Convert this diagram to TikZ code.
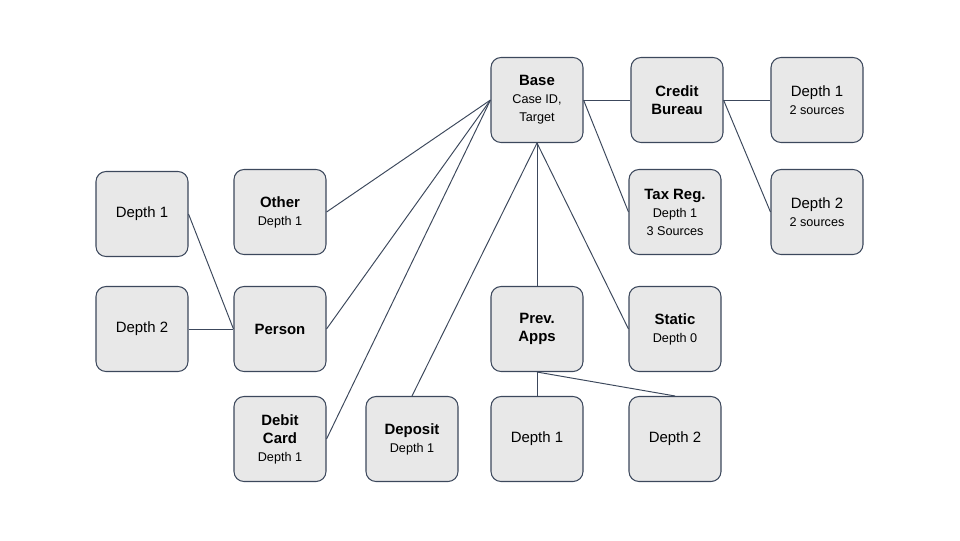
\documentclass[tikz,border=0pt]{standalone}
\usepackage{fontspec}
\setmainfont{Liberation Sans}
\usetikzlibrary{positioning}
\definecolor{boxfill}{RGB}{232,232,232}
\definecolor{boxedge}{RGB}{60,72,92}
\newcommand{\subtxt}[1]{{\fontsize{7.2}{8.8}\selectfont #1}}

\begin{document}
\begin{tikzpicture}[
    x=0.2mm, y=-0.2mm,
    font=\fontsize{8.5}{10.2}\selectfont,
    tbl/.style  ={rectangle, rounded corners=2mm, draw=boxedge, line width=0.6pt,
                  fill=boxfill, minimum width=18.4mm, minimum height=17mm,
                  inner sep=1pt, align=center},
    link/.style ={draw=boxedge, line width=0.55pt},
  ]
  \useasboundingbox (0,0) rectangle (960,540);

  % ---- top row: base and credit bureau ----
  \node[tbl] (base)   at (537,100) {\textbf{Base}\\\subtxt{Case ID,}\\\subtxt{Target}};
  \node[tbl] (bureau) at (677,100) {\textbf{Credit}\\\textbf{Bureau}};
  \node[tbl] (bdeep1) at (817,100) {Depth 1\\\subtxt{2 sources}};
  \node[tbl] (bdeep2) at (817,212) {Depth 2\\\subtxt{2 sources}};
  \node[tbl] (taxreg) at (675,212) {\textbf{Tax Reg.}\\\subtxt{Depth 1}\\\subtxt{3 Sources}};
  \node[tbl] (static) at (675,329) {\textbf{Static}\\\subtxt{Depth 0}};

  % ---- left side: other, person, debit card, deposit ----
  \node[tbl] (other)  at (280,212) {\textbf{Other}\\\subtxt{Depth 1}};
  \node[tbl] (person) at (280,329) {\textbf{Person}};
  \node[tbl] (pdeep1) at (142,214) {Depth 1};
  \node[tbl] (pdeep2) at (142,329) {Depth 2};
  \node[tbl] (debit)  at (280,439) {\textbf{Debit}\\\textbf{Card}\\\subtxt{Depth 1}};
  \node[tbl] (deposit) at (412,439) {\textbf{Deposit}\\\subtxt{Depth 1}};

  % ---- previous applications ----
  \node[tbl] (prev)   at (537,329) {\textbf{Prev.}\\\textbf{Apps}};
  \node[tbl] (adeep1) at (537,439) {Depth 1};
  \node[tbl] (adeep2) at (675,439) {Depth 2};

  % ---- links out of base ----
  \draw[link] (base.west)  -- (other.east);
  \draw[link] (base.west)  -- (person.east);
  \draw[link] (base.west)  -- (debit.east);
  \draw[link] (base.south) -- (deposit.north);
  \draw[link] (base.south) -- (prev.north);
  \draw[link] (base.south) -- (static.west);
  \draw[link] (base.east)  -- (bureau.west);
  \draw[link] (base.east)  -- (taxreg.west);

  % ---- links to the depth tables ----
  \draw[link] (bureau.east) -- (bdeep1.west);
  \draw[link] (bureau.east) -- (bdeep2.west);
  \draw[link] (pdeep1.east) -- (person.west);
  \draw[link] (pdeep2.east) -- (person.west);
  \draw[link] (prev.south)  -- (adeep1.north);
  \draw[link] (prev.south)  -- (adeep2.north);

\end{tikzpicture}
\end{document}
